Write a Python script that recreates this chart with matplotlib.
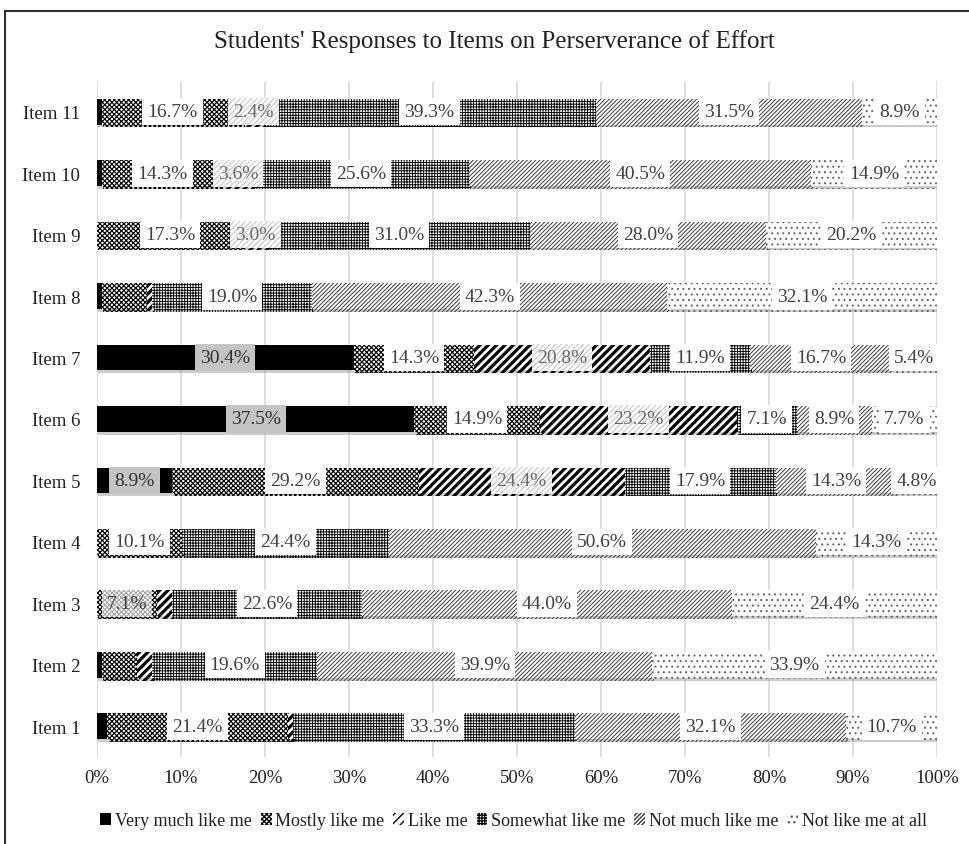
import matplotlib
matplotlib.use("Agg")
import matplotlib.pyplot as plt
import matplotlib.patheffects as pe
from matplotlib.patches import Patch
from matplotlib.lines import Line2D
import numpy as np

plt.rcParams['font.family'] = ['Liberation Serif', 'DejaVu Serif']

# ---------------- data ----------------
items = ["Item 1", "Item 2", "Item 3", "Item 4", "Item 5", "Item 6",
         "Item 7", "Item 8", "Item 9", "Item 10", "Item 11"]
series_names = ["Very much like me", "Mostly like me", "Like me",
                "Somewhat like me", "Not much like me", "Not like me at all"]

very_much = [1.2, 0.6, 0.0, 0.0, 8.9, 37.5, 30.4, 0.6, 0.0, 0.6, 0.6]
mostly    = [21.4, 4.2, 7.1, 10.1, 29.2, 14.9, 14.3, 5.4, 17.3, 14.3, 16.7]
like_me   = [0.6, 1.8, 1.8, 0.0, 24.4, 23.2, 20.8, 0.6, 3.0, 3.6, 2.4]
somewhat  = [33.3, 19.6, 22.6, 24.4, 17.9, 7.1, 11.9, 19.0, 31.0, 25.6, 39.3]
not_much  = [32.1, 39.9, 44.0, 50.6, 14.3, 8.9, 16.7, 42.3, 28.0, 40.5, 31.5]
not_at_all = [10.7, 33.9, 24.4, 14.3, 4.8, 7.7, 5.4, 32.1, 20.2, 14.9, 8.9]

# which data labels are displayed (per item, Item 1..Item 11)
very_much_lbl  = [0, 0, 0, 0, 1, 1, 1, 0, 0, 0, 0]
mostly_lbl     = [1, 0, 1, 1, 1, 1, 1, 0, 1, 1, 1]
like_me_lbl    = [0, 0, 0, 0, 1, 1, 1, 0, 1, 1, 1]
somewhat_lbl   = [1] * 11
not_much_lbl   = [1] * 11
not_at_all_lbl = [1] * 11

x_ticks = [0, 10, 20, 30, 40, 50, 60, 70, 80, 90, 100]
x_tick_labels = ["0%", "10%", "20%", "30%", "40%", "50%", "60%", "70%", "80%", "90%", "100%"]
title = "Students' Responses to Items on Perserverance of Effort"

# ---------------- styles ----------------
values = [very_much, mostly, like_me, somewhat, not_much, not_at_all]
labels_on = [very_much_lbl, mostly_lbl, like_me_lbl, somewhat_lbl, not_much_lbl, not_at_all_lbl]
styles = [
    dict(fc='black', ec='black', hatch=None, hlw=1.0),
    dict(fc='white', ec='black', hatch='xxxxxxx', hlw=0.85),
    dict(fc='white', ec='black', hatch='////', hlw=2.3),
    dict(fc='white', ec='black', hatch='++++++', hlw=0.65),
    dict(fc='white', ec='#3a3a3a', hatch='////////', hlw=0.7),
    dict(fc='white', ec='#606060', hatch='...', hlw=0.7),
]
PAD = 'square,pad=0.26'
label_box = [
    dict(boxstyle=PAD, fc='#c4c4c4', ec='none', lw=0),
    dict(boxstyle=PAD, fc='white', ec='none', lw=0),
    dict(boxstyle=PAD, fc='white', ec='#c8c8c8', lw=0, hatch='//////'),
    dict(boxstyle=PAD, fc='white', ec='none', lw=0),
    dict(boxstyle=PAD, fc='white', ec='none', lw=0),
    dict(boxstyle=PAD, fc='white', ec='none', lw=0),
]
label_color = ['#303030', '#404040', '#6a6a6a', '#404040', '#404040', '#404040']

fig = plt.figure(figsize=(9.69, 8.45), dpi=100)
ax = fig.add_axes([97 / 969, 1 - 758 / 845, (937 - 97) / 969, (758 - 82) / 845])

vals = np.array(values, dtype=float)
totals = vals.sum(axis=0)
pct = vals / totals * 100.0
y = np.arange(len(items))
left = np.zeros(len(items))

shadow = [pe.SimplePatchShadow(offset=(1.0, -2.0), shadow_rgbFace='#808080', alpha=0.4), pe.Normal()]

for s in range(len(series_names)):
    st = styles[s]
    with plt.rc_context({'hatch.linewidth': st['hlw']}):
        bars = ax.barh(y, pct[s], left=left, height=0.42, color=st['fc'],
                       edgecolor=st['ec'], linewidth=0, hatch=st['hatch'], zorder=2)
        for b in bars:
            if hasattr(b, 'set_hatch_linewidth'):
                b.set_hatch_linewidth(st['hlw'])
            b.set_path_effects(shadow)
    for i in range(len(items)):
        if labels_on[s][i] and values[s][i] > 0:
            box = dict(label_box[s])
            if s == 1 and i == 2:
                box = dict(boxstyle=PAD, fc='white', ec='#a8a8a8', lw=0, hatch='xxxxxxx')
            with plt.rc_context({'hatch.linewidth': 0.8}):
                ax.text(left[i] + pct[s][i] / 2, y[i], f"{values[s][i]:.1f}%",
                        ha='center', va='center', fontsize=14, color=label_color[s],
                        bbox=box, zorder=5)
    left = left + pct[s]

ax.set_xlim(0, 100)
ax.set_ylim(-0.5, len(items) - 0.5)
ax.set_yticks(y)
ax.set_yticklabels(items, fontsize=13.5, color='#202020')
ax.set_xticks(x_ticks)
ax.set_xticklabels(x_tick_labels, fontsize=13.5, color='#202020')
ax.tick_params(axis='both', length=0, pad=9)
ax.tick_params(axis='y', pad=12)
ax.xaxis.grid(True, color='#d9d9d9', lw=1.2, zorder=0)
ax.set_axisbelow(True)
for sp in ax.spines.values():
    sp.set_visible(False)

fig.text(0.51, 1 - 42 / 845, title, ha='center', va='center', fontsize=18, color='#202020')

handles = []
for s in range(len(series_names)):
    st = styles[s]
    with plt.rc_context({'hatch.linewidth': min(st['hlw'], 1.2)}):
        h = Patch(facecolor=st['fc'], edgecolor=st['ec'], linewidth=0, hatch=st['hatch'], label=series_names[s])
    handles.append(h)
fig.legend(handles=handles, loc='center', bbox_to_anchor=(0.53, 1 - 822 / 845), ncol=6,
           frameon=False, fontsize=13, handlelength=0.6, handleheight=0.6,
           handletextpad=0.2, columnspacing=0.5, labelcolor='#202020')

# outer frame (partially visible)
fig.add_artist(Line2D([5 / 969, 5 / 969], [0, 1 - 12 / 845], transform=fig.transFigure, color='#303030', lw=1.5))
fig.add_artist(Line2D([5 / 969, 1], [1 - 12 / 845, 1 - 12 / 845], transform=fig.transFigure, color='#303030', lw=1.5))

fig.savefig("out.png", dpi=100)
